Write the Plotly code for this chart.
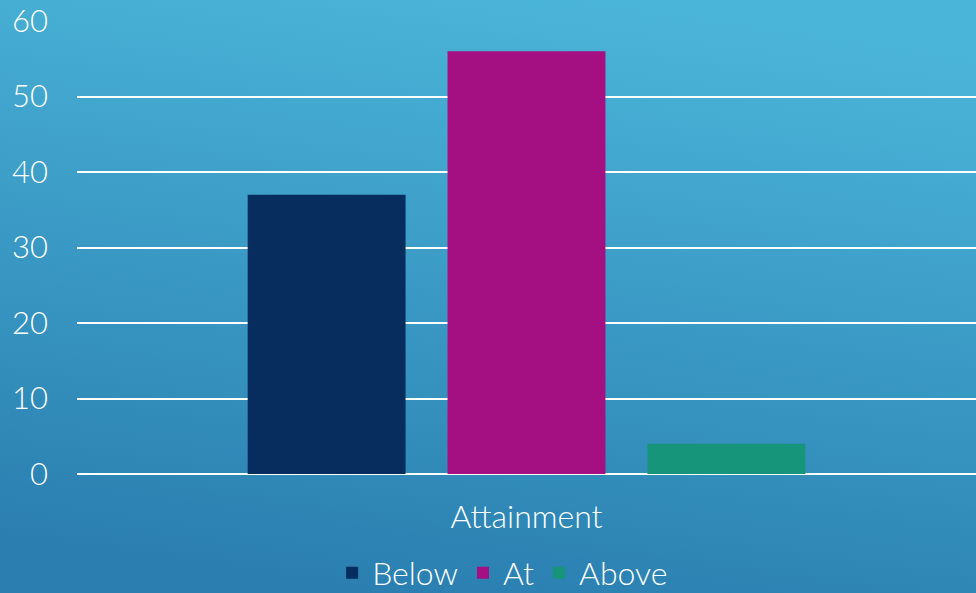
import plotly.graph_objects as go
import urllib.parse

categories = ["Attainment"]
series_names = ["Below", "At", "Above"]
series_values = [[37], [56], [4]]
series_colors = ["#062d5e", "#a40f82", "#17957a"]
y_ticks = [0, 10, 20, 30, 40, 50, 60]

W, H = 976, 593
L, R, T, B = 77, 0, 21, 119
pw, ph = W - L - R, H - T - B

svg = (
    '<svg xmlns="http://www.w3.org/2000/svg" width="976" height="593" preserveAspectRatio="none">'
    '<defs><linearGradient id="g" x1="0.62" y1="0" x2="0.38" y2="1">'
    '<stop offset="0" stop-color="#4bb5d9"/>'
    '<stop offset="1" stop-color="#2a7fb0"/>'
    '</linearGradient></defs>'
    '<rect width="976" height="593" fill="url(#g)"/></svg>'
)
bg_uri = "data:image/svg+xml;charset=utf-8," + urllib.parse.quote(svg)

fig = go.Figure()
for name, vals, col in zip(series_names, series_values, series_colors):
    fig.add_trace(go.Bar(name=name, x=categories, y=vals, marker=dict(color=col, line=dict(width=0))))

font_family = "Lato, 'Open Sans', sans-serif"
fig.update_layout(
    width=W, height=H,
    margin=dict(l=L, r=R, t=T, b=B, pad=0, autoexpand=False),
    paper_bgcolor="#2f8dbd",
    plot_bgcolor="rgba(0,0,0,0)",
    barmode="group",
    bargap=0.333,
    bargroupgap=0.21,
    font=dict(family=font_family, color="white", size=28, weight=300),
    images=[dict(source=bg_uri, xref="paper", yref="paper",
                 x=-L / pw, y=1 + T / ph, sizex=W / pw, sizey=H / ph,
                 xanchor="left", yanchor="top", sizing="stretch", layer="below")],
    xaxis=dict(showgrid=False, showline=False, zeroline=False,
               tickfont=dict(size=32, color="white", weight=300), ticks="", ticklabelstandoff=21),
    yaxis=dict(range=[0, 60], tickvals=y_ticks, showgrid=True, gridcolor="white", gridwidth=2,
               zeroline=True, zerolinecolor="white", zerolinewidth=2, showline=False,
               tickfont=dict(size=31, color="white", weight=300), ticks="", ticklabelstandoff=28),
    legend=dict(orientation="h", xref="container", yref="paper", x=0.515, xanchor="center",
                y=-(573 - 474) / ph, yanchor="middle", font=dict(size=32, color="white", weight=300),
                bgcolor="rgba(0,0,0,0)", itemwidth=30, tracegroupgap=0),
    showlegend=True,
)

fig.write_html("out.html", config={"displayModeBar": False},
               post_script="document.body.style.margin='0';document.body.style.overflow='hidden';")
